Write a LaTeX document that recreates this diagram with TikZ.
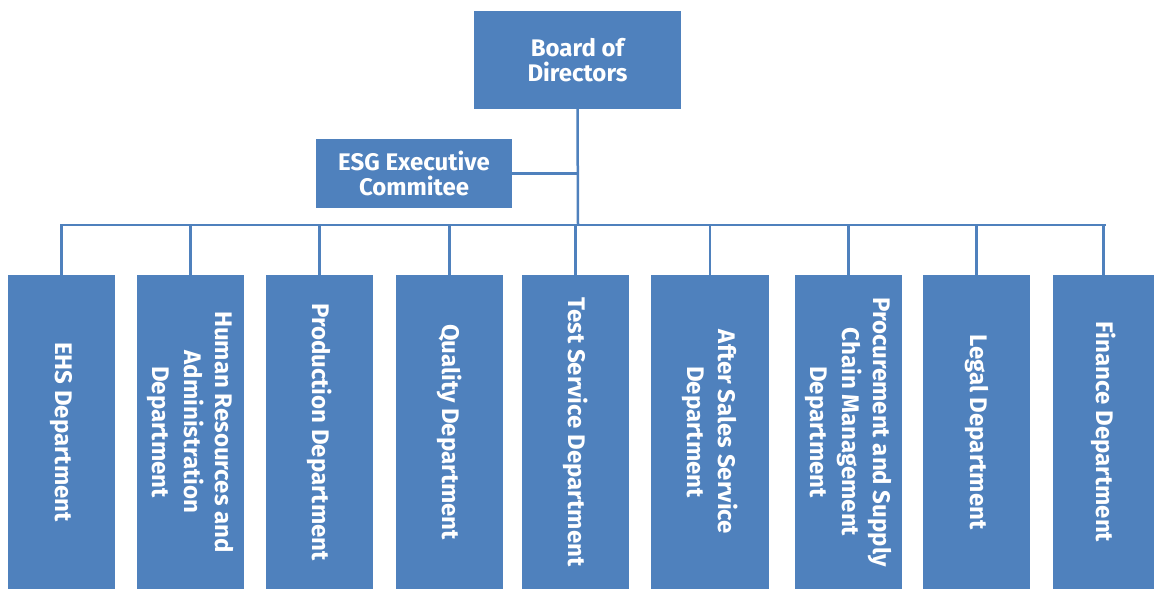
\documentclass[tikz,border=0pt]{standalone}
\usepackage{fontspec}
\setmainfont{Fira Sans}
\definecolor{obblue}{HTML}{4F81BD}
\begin{document}
\begin{tikzpicture}[x=1pt,y=-1pt,
  box/.style={fill=obblue,draw=none,text=white,font=\bfseries\fontsize{24}{25}\selectfont,align=center,inner sep=0pt},
  dept/.style={box,rotate=-90,minimum width=314pt,minimum height=107pt,font=\bfseries\fontsize{24}{31.5}\selectfont},
  conn/.style={draw=obblue,line width=2.5pt}]
\useasboundingbox (0,0) rectangle (1154,590);
\node[box,minimum width=207pt,minimum height=98pt] (board) at (577.5,60) {Board of\\Directors};
\node[box,minimum width=196pt,minimum height=69pt] (esg) at (414,173.5) {ESG Executive\\Commitee};
\node[dept] (d1) at (61.5,432) {EHS Department};
\node[dept] (d2) at (190.5,432) {Human Resources and\\Administration\\Department};
\node[dept] (d3) at (319.5,432) {Production Department};
\node[dept] (d4) at (449.5,432) {Quality Department};
\node[dept] (d5) at (575.5,432) {Test Service Department};
\node[dept,minimum height=118pt] (d6) at (710,432) {After Sales Service\\Department};
\node[dept] (d7) at (848.5,432) {Procurement and Supply\\Chain Management\\Department};
\node[dept] (d8) at (976.5,432) {Legal Department};
\node[dept,minimum height=101pt] (d9) at (1103.5,432) {Finance Department};
\coordinate (busL) at (60,225);
\coordinate (busR) at (1106,225);
\coordinate (trunk) at (578,225);
\path[conn] (busL) -- (busR);
\path[conn] (board.south) -- (trunk);
\path[conn] (esg.east) -- (esg.east -| trunk);
\foreach \i in {1,...,9} {\path[conn] (d\i.west) -- (d\i.west |- busL);}
\end{tikzpicture}
\end{document}
